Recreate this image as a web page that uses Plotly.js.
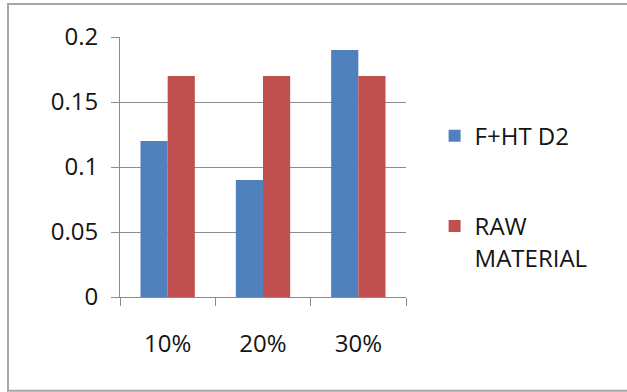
<!DOCTYPE html>
<html>
<head>
<meta charset="utf-8">
<script src="https://cdn.plot.ly/plotly-3.0.1.min.js"></script>
<style>html,body{margin:0;padding:0;background:#fff;}#chart{width:627px;height:392px;}</style>
</head>
<body>
<div id="chart"></div>
<script>
var categories = ["10%", "20%", "30%"];
var seriesNames = ["F+HT D2", "RAW<br>MATERIAL"];
var fhtD2 = [0.12, 0.09, 0.19];
var rawMaterial = [0.17, 0.17, 0.17];
var yTicks = [0, 0.05, 0.1, 0.15, 0.2];
var yTickLabels = ["0", "0.05", "0.1", "0.15", "0.2"];

var FONT = "Open Sans, Liberation Sans, sans-serif";
var traces = [
  {type: "bar", x: categories, y: fhtD2, name: seriesNames[0], legendgroup: "a",
   marker: {color: "#4F81BD"}},
  {type: "bar", x: categories, y: rawMaterial, name: seriesNames[1], legendgroup: "b",
   marker: {color: "#C0504D"}}
];
var layout = {
  width: 627, height: 392,
  margin: {l: 120, r: 221, t: 37, b: 95, pad: 0},
  paper_bgcolor: "#ffffff", plot_bgcolor: "#ffffff",
  font: {family: FONT, size: 24, color: "#141414"},
  barmode: "group", bargap: 0.43, bargroupgap: 0,
  showlegend: true,
  legend: {x: 1.1, y: 0.705, xanchor: "left", yanchor: "top", valign: "top",
           tracegroupgap: 56, traceorder: "grouped", font: {family: FONT, size: 24, color: "#141414"},
           bgcolor: "rgba(0,0,0,0)"},
  xaxis: {type: "category", tickson: "boundaries", ticks: "outside", ticklen: 8, tickcolor: "#8c8c8c",
          showline: true, linecolor: "#8c8c8c", linewidth: 1, showgrid: false, zeroline: false,
          ticklabelstandoff: 25, fixedrange: true},
  yaxis: {range: [0, 0.2], tickvals: yTicks, ticktext: yTickLabels, ticks: "outside", ticklen: 8,
          tickcolor: "#8c8c8c", showline: true, linecolor: "#8c8c8c", linewidth: 1,
          showgrid: true, gridcolor: "#8c8c8c", gridwidth: 1, zeroline: false,
          ticklabelstandoff: 8, fixedrange: true},
  shapes: [
    {type: "rect", xref: "paper", yref: "paper", x0: -0.3916, x1: 1.9, y0: -0.3603, y1: 1.1272,
     line: {color: "#a6a6a6", width: 2}, fillcolor: "rgba(0,0,0,0)", layer: "below"}
  ]
};
Plotly.newPlot("chart", traces, layout, {displayModeBar: false, staticPlot: true});
</script>
</body>
</html>
